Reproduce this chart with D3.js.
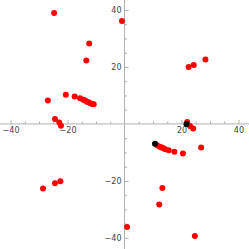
<!DOCTYPE html>
<html>
<head>
<meta charset="utf-8">
<script src="https://cdn.jsdelivr.net/npm/d3@7"></script>
<style>
  body { margin: 0; background: #fff; }
  svg { display: block; }
</style>
</head>
<body>
<svg id="chart" width="249" height="249"></svg>
<script>
// red series (x, y)
var redPoints = [
    [-24.7, 38.9], [-0.9, 36.1], [-12.4, 28.2], [-13.4, 22.3],
    [-26.9, 8.2], [-20.6, 10.2], [-17.5, 9.6],
    [-15.6, 9.0], [-14.5, 8.5], [-13.8, 8.2], [-13.2, 7.8],
    [-12.6, 7.6], [-12.0, 7.3], [-11.4, 7.0], [-10.8, 6.9],
    [-24.4, 1.7], [-22.9, 0.5], [-22.3, -0.6],
    [22.5, 20.0], [24.3, 20.7], [28.4, 22.6],
    [22.0, 0.7], [23.0, -0.7], [24.1, -1.6],
    [11.5, -7.6], [12.4, -8.0], [13.1, -8.3], [13.7, -8.5],
    [14.3, -8.9], [15.5, -9.2], [17.5, -9.8], [20.5, -10.4],
    [26.9, -8.3],
    [13.3, -22.5], [12.2, -28.3], [0.9, -36.2], [24.7, -39.3],
    [-28.6, -22.7], [-24.4, -20.8], [-22.5, -20.1]
]

// black series
var blackPoints = [
    [21.75, 0.0], [10.7, -7.0]
]

var majorTicks = [-40, -20, 20, 40]
var minorTicks = d3.range(-40, 41, 5).filter(function(d) { return d % 20 != 0 })

var svg = d3.select("#chart")

var x = d3.scaleLinear().domain([-43.7, 43.7]).range([0, 249])
var y = d3.scaleLinear().domain([-43.9, 43.5]).range([249, 0])

var fmt = function(d) { return d < 0 ? "\u2212" + Math.abs(d) : "" + d }

// axis lines through the origin
svg.append("line")
    .attr("x1", x(-43.7)).attr("x2", x(43.7))
    .attr("y1", y(0)).attr("y2", y(0))
    .attr("stroke", "#b0b0b0").attr("stroke-width", 1)
svg.append("line")
    .attr("x1", x(0)).attr("x2", x(0))
    .attr("y1", y(-43.9)).attr("y2", y(43.5))
    .attr("stroke", "#b0b0b0").attr("stroke-width", 1)

// x axis: ticks point up, labels below
var xMajor = svg.append("g").attr("transform", "translate(0," + y(0) + ")")
    .call(d3.axisBottom(x).tickValues(majorTicks).tickSize(-4).tickPadding(3).tickFormat(fmt))
var xMinor = svg.append("g").attr("transform", "translate(0," + y(0) + ")")
    .call(d3.axisBottom(x).tickValues(minorTicks).tickSize(-2.5).tickFormat(""))

// y axis: ticks point right, labels left
var yMajor = svg.append("g").attr("transform", "translate(" + x(0) + ",0)")
    .call(d3.axisLeft(y).tickValues(majorTicks).tickSize(-4).tickPadding(3).tickFormat(fmt))
var yMinor = svg.append("g").attr("transform", "translate(" + x(0) + ",0)")
    .call(d3.axisLeft(y).tickValues(minorTicks).tickSize(-2.5).tickFormat(""))

svg.selectAll(".domain").remove()
svg.selectAll(".tick line").attr("stroke", "#b0b0b0")
svg.selectAll(".tick text")
    .attr("fill", "#444")
    .style("font-family", "'DejaVu Sans', sans-serif")
    .style("font-size", "8px")

// points
svg.append("g").selectAll("circle")
    .data(redPoints)
    .enter().append("circle")
    .attr("cx", function(d) { return x(d[0]) })
    .attr("cy", function(d) { return y(d[1]) })
    .attr("r", 3)
    .attr("fill", "#ff0000")

svg.append("g").selectAll("circle")
    .data(blackPoints)
    .enter().append("circle")
    .attr("cx", function(d) { return x(d[0]) })
    .attr("cy", function(d) { return y(d[1]) })
    .attr("r", 3)
    .attr("fill", "#000")
</script>
</body>
</html>
